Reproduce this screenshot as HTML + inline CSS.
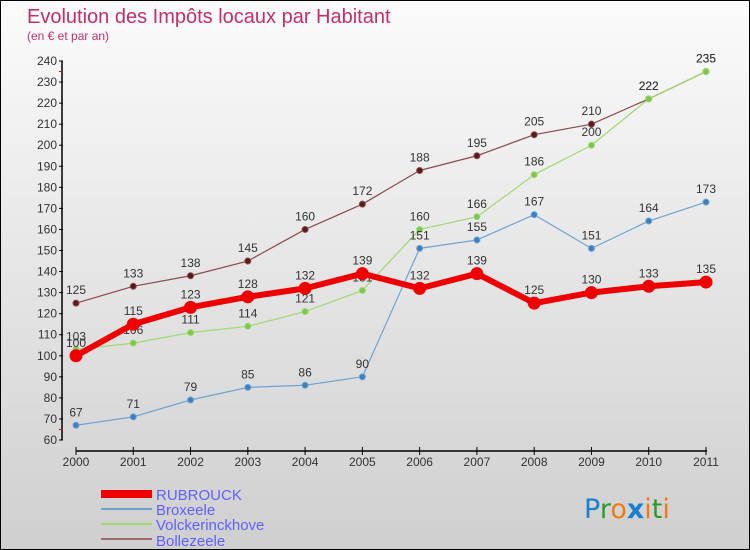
<!DOCTYPE html>
<html><head><meta charset="utf-8"><style>
body{margin:0}
#c{width:750px;height:550px;position:relative;box-sizing:border-box;border:1px solid #000;background:linear-gradient(#fbfbfb,#cfcfcf);font-family:"Liberation Sans",sans-serif;overflow:hidden}
</style></head><body>
<div id="c">
<svg id="s" width="750" height="550" style="position:absolute;left:0;top:0">
<text x="26" y="22" font-size="20" fill="#c0306a">Evolution des Impôts locaux par Habitant</text>
<text x="26" y="39" font-size="12" fill="#c0306a">(en € et par an)</text>
<g id="ax"></g><g id="ser"></g>
<g>
<rect x="100" y="489" width="51" height="8" fill="#e00"/>
<text x="155" y="499" font-size="15" fill="#6060ff">RUBROUCK</text>
<rect x="100" y="507" width="51" height="2" fill="#6fa3d0"/>
<text x="155" y="514" font-size="15" fill="#6060ff">Broxeele</text>
<rect x="100" y="522" width="51" height="2" fill="#9fd870"/>
<text x="155" y="529" font-size="15" fill="#6060ff">Volckerinckhove</text>
<rect x="100" y="537" width="51" height="2" fill="#9a6b6b"/>
<text x="155" y="545" font-size="15" fill="#6060ff">Bollezeele</text>
</g>
<g font-size="27" font-family="'DejaVu Sans',sans-serif">
<text x="583" y="517"><tspan fill="#1a7fd0">P</tspan><tspan fill="#2a9a30">r</tspan><tspan fill="#f07a10">o</tspan><tspan fill="#1a7fd0" font-weight="bold">x</tspan><tspan fill="#f07a10">i</tspan><tspan fill="#2a9a30">t</tspan><tspan fill="#f07a10">i</tspan></text>
</g>
</svg>
</div>
<script>
const years=["2000","2001","2002","2003","2004","2005","2006","2007","2008","2009","2010","2011"];
const yTicks=[60,70,80,90,100,110,120,130,140,150,160,170,180,190,200,210,220,230,240];
const rubrouck=[100,115,123,128,132,139,132,139,125,130,133,135];
const broxeele=[67,71,79,85,86,90,151,155,167,151,164,173];
const volckerinckhove=[103,106,111,114,121,131,160,166,186,200,222,235];
const bollezeele=[125,133,138,145,160,172,188,195,205,210,222,235];
const NS="http://www.w3.org/2000/svg";
function X(i){return 75+i*(630/11);}
function Y(v){return 439-(v-60)*(379/180);}
function mk(t,a,p){const e=document.createElementNS(NS,t);for(const k in a)e.setAttribute(k,a[k]);p.appendChild(e);return e;}
const ax=document.getElementById('ax');
let l=mk('line',{x1:61,y1:Y(240),x2:61,y2:Y(60),stroke:'#000','stroke-width':1.5},ax);


l=mk('line',{x1:75,y1:450,x2:706,y2:450,stroke:'#000','stroke-width':1.5},ax);


yTicks.forEach(v=>{
 mk('line',{x1:58,y1:Y(v),x2:62,y2:Y(v),stroke:'#000'},ax);
 const t=mk('text',{x:56,y:Y(v)+4,'font-size':12,'text-anchor':'end',fill:'#333'},ax);
 t.textContent=v;
 
 
});
[65,235].forEach(v=>mk('line',{x1:58,y1:Y(v),x2:61,y2:Y(v),stroke:'#e00'},ax));
years.forEach((y,i)=>{
 mk('line',{x1:X(i),y1:446,x2:X(i),y2:454,stroke:'#000'},ax);
 const t=mk('text',{x:X(i),y:465,'font-size':12,'text-anchor':'middle',fill:'#333'},ax);
 t.textContent=y;
 
 
});
const ser=document.getElementById('ser');
function draw(data,name,col,dot,w,r){
 const g=mk('g',{},ser);
 
 
 const p=mk('polyline',{points:data.map((v,i)=>X(i)+','+Y(v)).join(' '),fill:'none',stroke:col,'stroke-width':w,'stroke-linejoin':'round'},g);
 
 
 data.forEach((v,i)=>{
  const c=mk('circle',{cx:X(i),cy:Y(v),r:r,fill:dot,stroke:col,'stroke-width':1},g);
  
  
  const t=mk('text',{x:X(i),y:Y(v)-9,'font-size':12,'text-anchor':'middle',fill:'#333'},g);
  t.textContent=v;
  
  
 });
}
draw(bollezeele,'bollezeele','#8a4a4a','#5a1a1a',1.2,3);
draw(volckerinckhove,'volckerinckhove','#9fd870','#7ac84a',1.2,3);
draw(broxeele,'broxeele','#6fa3d0','#3a80c0',1.2,3);
draw(rubrouck,'rubrouck','#ee0000','#ee0000',6,6);
</script>
</body></html>
